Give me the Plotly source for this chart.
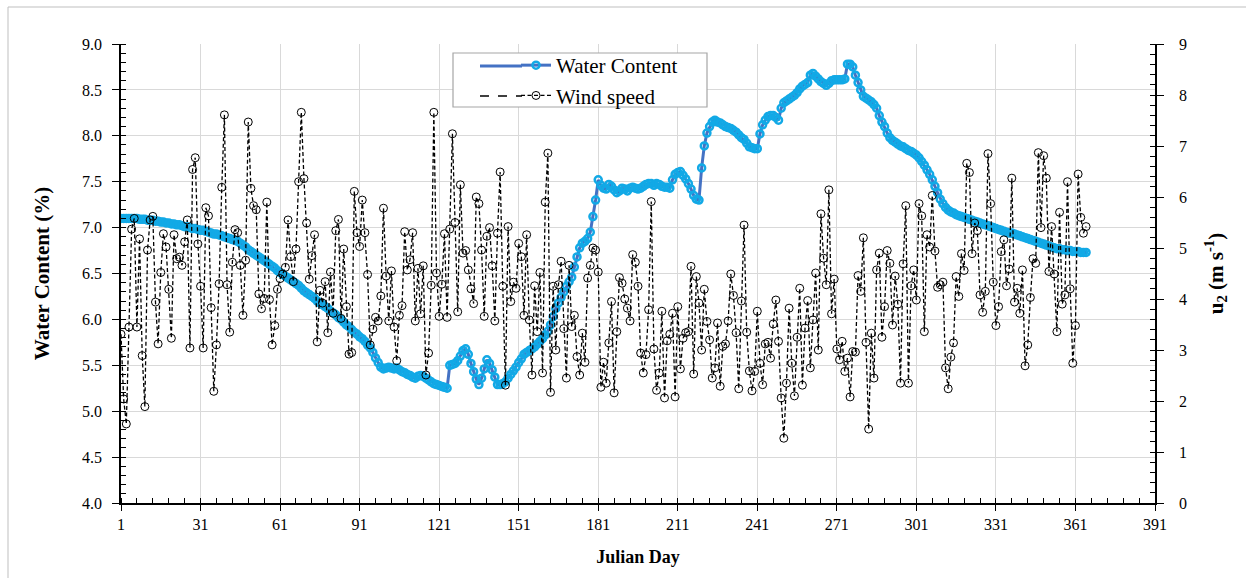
import plotly.graph_objects as go

# ---------------- data ----------------
days = list(range(1, 366))

water_content = [
    7.10, 7.10, 7.10, 7.10, 7.10, 7.10, 7.10, 7.09, 7.09, 7.09,
    7.08, 7.08, 7.08, 7.07, 7.07, 7.06, 7.06, 7.05, 7.05, 7.04,
    7.04, 7.03, 7.03, 7.02, 7.01, 7.01, 7.00, 6.99, 6.99, 6.98,
    6.97, 6.97, 6.96, 6.95, 6.94, 6.93, 6.93, 6.92, 6.91, 6.90,
    6.89, 6.88, 6.87, 6.86, 6.85, 6.83, 6.81, 6.79, 6.76, 6.74,
    6.72, 6.70, 6.68, 6.66, 6.64, 6.62, 6.60, 6.58, 6.56, 6.53,
    6.51, 6.49, 6.47, 6.45, 6.43, 6.41, 6.39, 6.37, 6.34, 6.31,
    6.29, 6.27, 6.25, 6.23, 6.20, 6.18, 6.16, 6.14, 6.12, 6.09,
    6.07, 6.05, 6.02, 6.00, 5.97, 5.94, 5.92, 5.89, 5.86, 5.84,
    5.81, 5.79, 5.76, 5.72, 5.69, 5.64, 5.58, 5.53, 5.48, 5.46,
    5.47, 5.48, 5.47, 5.46, 5.47, 5.45, 5.43, 5.42, 5.40, 5.39,
    5.37, 5.36, 5.38, 5.39, 5.38, 5.36, 5.34, 5.32, 5.30, 5.29,
    5.28, 5.27, 5.26, 5.25, 5.50, 5.51, 5.52, 5.55, 5.60, 5.66,
    5.68, 5.62, 5.52, 5.43, 5.35, 5.29, 5.36, 5.46, 5.56, 5.52,
    5.45, 5.37, 5.29, 5.29, 5.30, 5.32, 5.36, 5.40, 5.44, 5.48,
    5.53, 5.57, 5.62, 5.64, 5.66, 5.68, 5.70, 5.73, 5.76, 5.79,
    5.83, 5.87, 5.94, 6.03, 6.12, 6.18, 6.24, 6.30, 6.36, 6.41,
    6.46, 6.57, 6.68, 6.78, 6.83, 6.85, 6.88, 6.95, 7.12, 7.30,
    7.52, 7.46, 7.43, 7.42, 7.47, 7.45, 7.41, 7.38, 7.40, 7.43,
    7.42, 7.40, 7.43, 7.44, 7.43, 7.42, 7.43, 7.45, 7.47, 7.48,
    7.48, 7.46, 7.48, 7.47, 7.45, 7.44, 7.44, 7.43, 7.52, 7.58,
    7.60, 7.61, 7.57, 7.53, 7.48, 7.42, 7.35, 7.31, 7.30, 7.65,
    7.89, 8.03, 8.10, 8.15, 8.17, 8.15, 8.14, 8.12, 8.10, 8.09,
    8.08, 8.06, 8.04, 8.01, 7.98, 7.96, 7.92, 7.88, 7.87, 7.86,
    7.86, 8.02, 8.12, 8.17, 8.21, 8.22, 8.22, 8.20, 8.17, 8.30,
    8.36, 8.38, 8.40, 8.42, 8.44, 8.47, 8.51, 8.54, 8.56, 8.58,
    8.66, 8.68, 8.65, 8.62, 8.59, 8.57, 8.55, 8.57, 8.60, 8.61,
    8.61, 8.61, 8.61, 8.62, 8.78, 8.78, 8.75, 8.66, 8.58, 8.50,
    8.43, 8.41, 8.39, 8.37, 8.34, 8.30, 8.22, 8.15, 8.10, 8.03,
    7.98, 7.95, 7.93, 7.91, 7.89, 7.88, 7.86, 7.84, 7.83, 7.81,
    7.79, 7.76, 7.72, 7.68, 7.63, 7.58, 7.52, 7.45, 7.38, 7.31,
    7.26, 7.22, 7.19, 7.17, 7.16, 7.14, 7.13, 7.12, 7.11, 7.10,
    7.09, 7.08, 7.07, 7.06, 7.05, 7.04, 7.03, 7.02, 7.01, 7.00,
    6.99, 6.98, 6.97, 6.96, 6.95, 6.94, 6.94, 6.93, 6.92, 6.91,
    6.90, 6.89, 6.88, 6.87, 6.86, 6.85, 6.84, 6.83, 6.82, 6.81,
    6.80, 6.79, 6.78, 6.77, 6.77, 6.76, 6.76, 6.75, 6.75, 6.74,
    6.74, 6.74, 6.73, 6.73, 6.73,
]

wind_speed = [
    3.31, 2.04, 1.55, 3.45, 5.37, 5.58, 3.45, 5.18, 2.89, 1.89,
    4.96, 5.55, 5.62, 3.94, 3.12, 4.52, 5.28, 5.02, 4.19, 3.23,
    5.26, 4.79, 4.82, 4.66, 5.12, 5.55, 3.04, 6.54, 6.77, 5.08,
    4.25, 3.04, 5.79, 5.63, 3.83, 2.19, 3.10, 4.30, 6.19, 7.61,
    4.28, 3.35, 4.72, 5.36, 5.30, 4.66, 3.68, 4.76, 7.47, 6.17,
    5.83, 5.75, 4.10, 3.81, 4.01, 5.90, 3.99, 3.10, 3.48, 4.19,
    4.40, 4.49, 4.62, 5.55, 4.83, 4.34, 4.98, 6.30, 7.66, 6.36,
    5.49, 4.39, 4.85, 5.26, 3.16, 4.17, 3.92, 4.34, 3.34, 4.53,
    3.72, 5.34, 5.56, 3.62, 4.98, 3.85, 2.92, 2.95, 6.11, 5.30,
    5.03, 5.94, 5.30, 4.48, 3.10, 3.41, 3.64, 3.57, 4.06, 5.78,
    4.45, 3.57, 4.55, 3.45, 2.79, 3.68, 3.87, 5.32, 4.57, 4.77,
    5.30, 3.57, 4.60, 3.71, 4.65, 2.51, 2.94, 4.27, 7.66, 4.51,
    3.66, 4.29, 5.28, 3.64, 5.37, 7.24, 5.50, 3.75, 6.24, 4.90,
    4.95, 4.57, 4.20, 3.91, 6.00, 5.87, 4.96, 3.66, 5.23, 5.40,
    4.65, 3.57, 5.29, 6.49, 4.25, 2.31, 5.42, 3.95, 4.33, 4.21,
    5.09, 4.83, 3.68, 5.26, 3.59, 2.51, 4.26, 3.36, 4.52, 2.55,
    5.90, 6.86, 2.17, 4.25, 3.00, 4.28, 4.74, 3.42, 2.45, 4.66,
    3.46, 3.68, 2.87, 2.51, 3.33, 2.76, 4.41, 4.66, 5.00, 4.96,
    4.53, 2.27, 2.76, 2.35, 3.14, 3.95, 2.16, 3.36, 4.42, 4.31,
    4.00, 3.82, 3.57, 4.87, 4.72, 4.25, 2.94, 2.55, 2.91, 3.79,
    5.91, 3.02, 2.21, 2.55, 3.76, 2.06, 3.18, 3.31, 3.72, 2.08,
    3.85, 2.63, 3.23, 3.34, 3.36, 4.64, 2.53, 4.44, 3.92, 3.00,
    4.19, 3.56, 3.20, 2.45, 2.65, 3.53, 2.29, 3.07, 3.12, 3.57,
    4.49, 4.07, 3.34, 2.24, 3.96, 5.45, 3.35, 2.59, 2.20, 2.58,
    3.76, 2.74, 2.32, 3.12, 3.15, 2.84, 3.51, 3.98, 3.17, 2.06,
    1.27, 2.35, 3.82, 2.74, 2.10, 3.25, 4.21, 2.31, 3.43, 3.97,
    2.65, 3.59, 4.51, 3.00, 5.67, 4.80, 4.28, 6.14, 3.71, 4.39,
    3.02, 2.81, 3.17, 2.58, 2.84, 2.08, 2.97, 2.96, 4.46, 4.15,
    5.20, 3.15, 1.45, 3.33, 2.45, 4.57, 4.90, 3.25, 3.85, 4.95,
    4.70, 3.49, 4.45, 3.90, 2.35, 4.69, 5.83, 2.35, 4.26, 4.57,
    3.98, 5.87, 5.63, 3.36, 5.26, 5.02, 6.03, 4.94, 4.23, 4.28,
    4.33, 2.65, 2.24, 2.86, 3.14, 4.44, 4.05, 4.89, 4.56, 6.66,
    6.48, 4.89, 5.49, 5.34, 4.08, 3.74, 4.15, 6.85, 5.87, 4.33,
    3.48, 3.85, 4.93, 5.16, 4.26, 4.59, 6.37, 3.94, 4.21, 3.72,
    4.57, 2.69, 3.10, 4.03, 4.79, 4.70, 6.87, 5.40, 6.81, 6.37,
    4.54, 5.42, 4.49, 3.36, 5.70, 3.90, 4.08, 6.30, 4.20, 2.74,
    3.48, 6.45, 5.60, 5.29, 5.42,
]

assert len(water_content) == len(days), len(water_content)
assert len(wind_speed) == len(days), len(wind_speed)

# ---------------- layout geometry ----------------
W, H = 1246, 578
ML, MR, MT, MB = 121, 91, 44, 75
PW, PH = W - ML - MR, H - MT - MB


def px_x(x):
    return (x - ML) / PW


def px_y(y):
    return (H - MB - y) / PH


FONT = "Liberation Serif, Times New Roman, serif"
BLUE_LINE = "#4472C4"
CYAN = "#12A9E6"
WIND_DASH = "4px,2.5px"

fig = go.Figure()

fig.add_trace(go.Scatter(
    x=days, y=water_content, name="Water Content",
    mode="lines+markers",
    line=dict(color=BLUE_LINE, width=3),
    marker=dict(symbol="circle-open", size=7, color=CYAN,
                line=dict(width=2.5, color=CYAN)),
    yaxis="y",
))

fig.add_trace(go.Scatter(
    x=days, y=wind_speed, name="Wind speed",
    mode="lines+markers",
    line=dict(color="black", width=1.3, dash=WIND_DASH),
    marker=dict(symbol="circle-open", size=8, color="black",
                line=dict(width=1, color="black")),
    yaxis="y2",
))

grid = "#d9d9d9"

# legend geometry (pixels)
LEG_X = 516
ROW1_Y, ROW2_Y = 66, 96

# inner halves of the major ticks (Excel "cross" tick marks)
cross_common = dict(showgrid=False, showline=False, zeroline=False,
                    showticklabels=False, ticks="inside", ticklen=6,
                    tickcolor="black", tickwidth=1.2)

fig.update_layout(
    width=W, height=H,
    margin=dict(l=ML, r=MR, t=MT, b=MB, autoexpand=False),
    paper_bgcolor="white", plot_bgcolor="white",
    font=dict(family=FONT, size=16, color="black"),
    showlegend=True,
    legend=dict(
        x=px_x(LEG_X), y=px_y(45), xanchor="left", yanchor="top",
        bgcolor="rgba(0,0,0,0)", borderwidth=0,
        font=dict(family=FONT, size=21, color="black"),
        tracegroupgap=0,
    ),
    xaxis=dict(
        range=[1, 391], tick0=1, dtick=30,
        showgrid=True, gridcolor=grid, gridwidth=1,
        showline=True, linecolor="black", linewidth=1.5,
        ticks="outside", ticklen=6, tickcolor="black", tickwidth=1.2,
        minor=dict(tick0=1, dtick=6, ticks="inside", ticklen=5,
                   tickcolor="black", tickwidth=1, showgrid=False),
        zeroline=False,
        tickfont=dict(family=FONT, size=16),
        title=dict(text="<b>Julian Day</b>", font=dict(family=FONT, size=18),
                   standoff=18),
    ),
    xaxis2=dict(range=[1, 391], tick0=1, dtick=30, overlaying="x",
                anchor="y", side="bottom", **cross_common),
    yaxis=dict(
        range=[4, 9], tick0=4, dtick=0.5, tickformat=".1f",
        showgrid=True, gridcolor=grid, gridwidth=1,
        showline=True, linecolor="black", linewidth=1.5,
        ticks="outside", ticklen=7, tickcolor="black", tickwidth=1.2,
        ticklabelstandoff=7,
        minor=dict(dtick=0.1, ticks="inside", ticklen=5,
                   tickcolor="black", tickwidth=1, showgrid=False),
        zeroline=False,
        tickfont=dict(family=FONT, size=16),
        title=dict(text="<b>Water Content (%)</b>",
                   font=dict(family=FONT, size=21), standoff=27),
    ),
    yaxis2=dict(
        range=[0, 9], tick0=0, dtick=1, overlaying="y", side="right",
        showgrid=False,
        showline=True, linecolor="black", linewidth=1.5,
        ticks="outside", ticklen=7, tickcolor="black", tickwidth=1.2,
        ticklabelstandoff=12,
        minor=dict(dtick=0.2, ticks="inside", ticklen=5,
                   tickcolor="black", tickwidth=1, showgrid=False),
        zeroline=False,
        tickfont=dict(family=FONT, size=16),
        title=dict(text="<b>u<sub>2</sub> (m s<sup>-1</sup>)</b>",
                   font=dict(family=FONT, size=21), standoff=22),
    ),
    yaxis3=dict(range=[4, 9], tick0=4, dtick=0.5, overlaying="y",
                side="left", anchor="x", **cross_common),
    yaxis4=dict(range=[0, 9], tick0=0, dtick=1, overlaying="y",
                side="right", anchor="x", **cross_common),
    shapes=[
        # outer chart frame (only left and top edges visible)
        dict(type="rect", xref="paper", yref="paper", layer="below",
             x0=px_x(8), x1=px_x(1300), y0=px_y(640), y1=px_y(7),
             line=dict(color="#bfbfbf", width=1), fillcolor="rgba(0,0,0,0)"),
        # legend box
        dict(type="rect", xref="paper", yref="paper", layer="above",
             x0=px_x(453), x1=px_x(707), y0=px_y(107), y1=px_y(53),
             line=dict(color="#a6a6a6", width=1.2), fillcolor="white"),
        # longer legend samples (Excel style)
        dict(type="line", xref="paper", yref="paper", layer="above",
             x0=px_x(480), x1=px_x(LEG_X + 6), y0=px_y(ROW1_Y), y1=px_y(ROW1_Y),
             line=dict(color=BLUE_LINE, width=3)),
        dict(type="line", xref="paper", yref="paper", layer="above",
             x0=px_x(480), x1=px_x(LEG_X + 6), y0=px_y(ROW2_Y), y1=px_y(ROW2_Y),
             line=dict(color="black", width=1.3, dash="dash")),
    ],
)

fig.write_html("out.html")
